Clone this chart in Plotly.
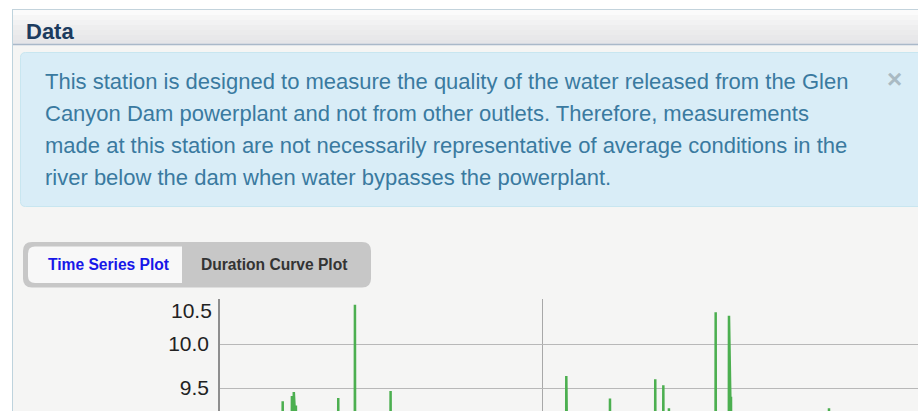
import plotly.graph_objects as go

W, H = 918, 411

# sub-daily readings; only the peaks reach into the visible band of the axis
times = [
    "2015-03-13 00:00", "2015-05-09 07:00", "2015-05-09 10:00", "2015-05-09 13:00",
    "2015-05-17 16:00", "2015-05-17 19:00", "2015-05-17 22:00",
    "2015-05-19 09:00", "2015-05-19 12:00", "2015-05-19 15:00",
    "2015-05-21 07:00", "2015-05-21 10:00", "2015-05-21 13:00",
    "2015-06-28 19:00", "2015-06-28 22:00", "2015-06-29 01:00",
    "2015-07-13 23:00", "2015-07-14 02:00", "2015-07-14 05:00",
    "2015-08-15 09:00", "2015-08-15 12:00", "2015-08-15 15:00",
    "2016-01-22 02:00", "2016-01-22 05:00", "2016-01-22 12:00", "2016-01-22 20:00",
    "2016-03-01 19:00", "2016-03-01 22:00", "2016-03-02 01:00",
    "2016-04-11 23:00", "2016-04-12 02:00", "2016-04-12 05:00",
    "2016-04-19 07:00", "2016-04-19 10:00", "2016-04-19 13:00",
    "2016-04-24 09:00", "2016-04-24 12:00", "2016-04-24 15:00",
    "2016-06-05 21:00", "2016-06-06 00:00", "2016-06-06 03:00",
    "2016-06-17 23:00", "2016-06-18 02:00", "2016-06-18 05:00",
    "2016-06-19 19:00", "2016-06-19 22:00", "2016-06-20 01:00",
    "2016-09-16 21:00", "2016-09-17 00:00", "2016-09-17 03:00",
    "2016-12-10 00:00",
]
values = [
    8.84, 8.91, 9.35, 8.90,
    8.92, 9.41, 8.95,
    8.93, 9.455, 9.05,
    9.02, 9.30, 8.90,
    8.88, 9.385, 8.86,
    8.87, 10.445, 8.90,
    8.91, 9.465, 8.88,
    8.95, 9.635, 9.29, 8.92,
    8.90, 9.38, 8.88,
    8.93, 9.60, 8.95,
    8.94, 9.53, 9.00,
    8.96, 9.27, 8.92,
    8.95, 10.36, 8.93,
    8.97, 10.32, 9.10,
    9.02, 9.40, 8.95,
    8.90, 9.27, 8.88,
    8.86,
]

x_range = ["2015-03-13 10:00", "2016-12-06 22:00"]
y_range = [9.2386, 10.5114]
y_ticks = [9.5, 10.0, 10.5]
y_ticktext = ["9.5", "10.0", ""]
x_grid = ["2016-01-01"]

alert_lines = [
    "This station is designed to measure the quality of the water released from the Glen",
    "Canyon Dam powerplant and not from other outlets. Therefore, measurements",
    "made at this station are not necessarily representative of average conditions in the",
    "river below the dam when water bypasses the powerplant.",
]
tab_labels = ["Time Series Plot", "Duration Curve Plot"]

FONT = "Liberation Sans, Arial, sans-serif"


def px(x):
    return x / W


def py(y):
    return 1 - y / H


def round_rect(x0, y0, x1, y1, r, left=True, right=True):
    rl = r if left else 0
    rr = r if right else 0
    p = f"M {px(x0 + rl)},{py(y0)} L {px(x1 - rr)},{py(y0)} "
    p += f"Q {px(x1)},{py(y0)} {px(x1)},{py(y0 + rr)} L {px(x1)},{py(y1 - rr)} "
    p += f"Q {px(x1)},{py(y1)} {px(x1 - rr)},{py(y1)} L {px(x0 + rl)},{py(y1)} "
    p += f"Q {px(x0)},{py(y1)} {px(x0)},{py(y1 - rl)} L {px(x0)},{py(y0 + rl)} "
    p += f"Q {px(x0)},{py(y0)} {px(x0 + rl)},{py(y0)} Z"
    return p


def rect(x0, y0, x1, y1, fill, line=None):
    return dict(
        type="rect", xref="paper", yref="paper", layer="below",
        x0=px(x0), x1=px(x1), y0=py(y1), y1=py(y0),
        fillcolor=fill, line=dict(width=0) if line is None else line,
    )


def hline(x0, x1, y, color, width=1):
    return dict(
        type="line", xref="paper", yref="paper", layer="below",
        x0=px(x0), x1=px(x1), y0=py(y), y1=py(y),
        line=dict(color=color, width=width),
    )


def label(x, y, text, size, color, anchor="left", bold=False):
    if bold:
        text = f"<b>{text}</b>"
    return dict(
        xref="paper", yref="paper", x=px(x), y=py(y), text=text,
        showarrow=False, xanchor=anchor, yanchor="middle",
        font=dict(family=FONT, size=size, color=color), borderpad=0,
    )


fig = go.Figure()

fig.add_trace(
    go.Scatter(
        x=times,
        y=values,
        mode="lines",
        line=dict(color="#4caf50", width=2.5),
        hoverinfo="skip",
    )
)

shapes = [
    rect(0, 0, 12, H, "#ffffff"),
    rect(0, 0, W, 9.5, "#ffffff"),
]
# heading gradient
heading_cols = ["#fbfbfb", "#f6f6f6", "#f2f2f3", "#eeeeef", "#ebebec", "#e8e8ea", "#e5e5e8"]
for i, c in enumerate(heading_cols):
    shapes.append(rect(12, 10 + i * 5, W, 15 + i * 5, c))
shapes += [
    hline(12, W, 9.5, "#c3d3dc"),
    hline(12, W, 44.5, "#a9b8c9", 1.5),
    dict(type="line", xref="paper", yref="paper", layer="below",
         x0=px(12.5), x1=px(12.5), y0=py(9.5), y1=0,
         line=dict(color="#bed3dd", width=1)),
    dict(type="path", xref="paper", yref="paper", layer="below",
         path=round_rect(20.5, 52.5, W + 10, 206.5, 5),
         fillcolor="#d9edf7", line=dict(color="#c8e6f0", width=1)),
    dict(type="path", xref="paper", yref="paper", layer="below",
         path=round_rect(23, 242, 371, 287.5, 9),
         fillcolor="#c7c7c7", line=dict(width=0)),
    dict(type="path", xref="paper", yref="paper", layer="below",
         path=round_rect(28, 246.5, 182, 283, 7, right=False),
         fillcolor="#f8f8f8", line=dict(width=0)),
]

annotations = [label(25, 31, "Data", 22, "#1c3b5e", bold=True)]
for i, t in enumerate(alert_lines):
    annotations.append(label(44, 81.5 + i * 32, t, 22, "#3a7aa0"))
annotations += [
    label(894, 79, "×", 26, "#a9bac3", anchor="center", bold=True),
    label(47, 264.5, tab_labels[0], 15.6, "#1717e8", bold=True),
    label(200, 264.5, tab_labels[1], 15.6, "#333333", bold=True),
    label(213, 310, "10.5", 21, "#222222", anchor="right"),
]

fig.update_layout(
    width=W,
    height=H,
    margin=dict(l=0, r=0, t=0, b=0),
    paper_bgcolor="#f5f5f4",
    plot_bgcolor="#f5f5f4",
    showlegend=False,
    shapes=shapes,
    annotations=annotations,
    xaxis=dict(
        type="date",
        domain=[px(220), 1],
        range=x_range,
        tickmode="array",
        tickvals=x_grid,
        showticklabels=False,
        showgrid=True,
        gridcolor="#a8a8a8",
        gridwidth=1,
        zeroline=False,
        showline=False,
        automargin=False,
    ),
    yaxis=dict(
        domain=[0, py(299)],
        range=y_range,
        tickmode="array",
        tickvals=y_ticks,
        ticktext=y_ticktext,
        tickfont=dict(family=FONT, size=21, color="#222222"),
        ticks="",
        ticklabelstandoff=5,
        showgrid=True,
        gridcolor="#b8b8b8",
        gridwidth=1.2,
        zeroline=False,
        showline=True,
        linecolor="#8e8e8e",
        linewidth=1.5,
        automargin=False,
    ),
)

fig.write_html(
    "out.html",
    config=dict(displayModeBar=False),
    post_script="document.body.style.margin = '0';",
)
